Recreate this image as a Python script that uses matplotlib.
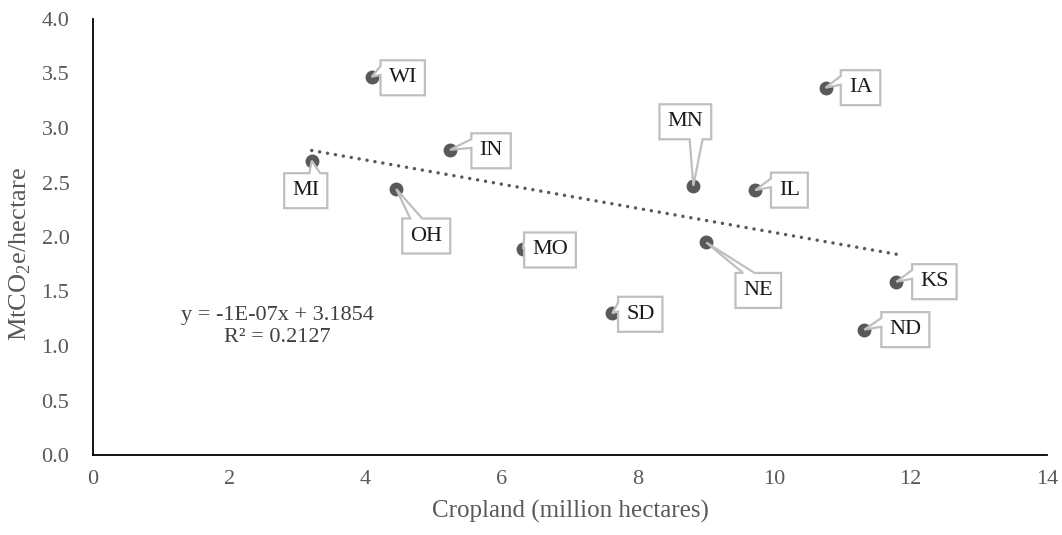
import numpy as np
import matplotlib
matplotlib.use("Agg")
import matplotlib.pyplot as plt
from matplotlib.patches import Polygon
from matplotlib.transforms import IdentityTransform

# ---- data ----
states = ["WI", "IN", "MI", "OH", "MO", "SD", "MN", "IL", "IA", "NE", "KS", "ND"]
cropland = [4.09, 5.24, 3.21, 4.45, 6.31, 7.62, 8.81, 9.72, 10.75, 9.00, 11.79, 11.32]
emissions = [3.47, 2.80, 2.70, 2.44, 1.89, 1.30, 2.47, 2.43, 3.37, 1.95, 1.59, 1.15]
equation_text = "y = -1E-07x + 3.1854\nR\u00b2 = 0.2127"
x_ticks = [0, 2, 4, 6, 8, 10, 12, 14]
y_ticks = [0.0, 0.5, 1.0, 1.5, 2.0, 2.5, 3.0, 3.5, 4.0]

# callout box centre offsets (pixels, y up) relative to their points
label_offsets = {
    "WI": (31, -1), "IN": (41, -1), "MI": (-6, -30), "OH": (30, -47),
    "MO": (27, -1), "SD": (28, -1), "MN": (-8, 64), "IL": (34, 0),
    "IA": (35, 0), "NE": (52, -48), "KS": (38, 0), "ND": (41, 0),
}

plt.rcParams['font.family'] = ['Liberation Serif', 'DejaVu Serif']
plt.rcParams['mathtext.fontset'] = 'custom'
plt.rcParams['mathtext.rm'] = 'Liberation Serif'

fig = plt.figure(figsize=(10.62, 5.35), dpi=100)
ax = fig.add_axes([93/1062, 1-455/535, (1047-93)/1062, (455-19)/535])

dark = "#595959"
ax.scatter(cropland, emissions, s=100, color=dark, zorder=2, linewidths=0)

# linear trendline
xs = np.array(cropland)
ys = np.array(emissions)
slope, intercept = np.polyfit(xs, ys, 1)
xl = np.array([xs.min(), xs.max()])
ax.plot(xl, slope*xl + intercept, color=dark, lw=2.5,
        linestyle=(0, (0.01, 2.3)), dash_capstyle='round', zorder=2)

ax.set_xlim(0, 14)
ax.set_ylim(0, 4.0)

texts = []
for s, x, y in zip(states, cropland, emissions):
    dx, dy = label_offsets[s]
    t = ax.annotate(s, xy=(x, y), xytext=(dx, dy), textcoords='offset pixels',
                    ha='center', va='center', fontsize=16, color='#1a1a1a',
                    zorder=6)
    texts.append((t, x, y, dx, dy))

ax.text(2.70, 1.18, equation_text, ha='center', va='center', multialignment='center',
        fontsize=16, color='#404040', linespacing=1.25)

ax.set_xticks(x_ticks)
ax.set_yticks(y_ticks)
ax.set_xticklabels([str(t) for t in x_ticks])
ax.set_yticklabels([f"{t:.1f}" for t in y_ticks])
ax.tick_params(length=0, labelsize=16, colors='#595959')
ax.tick_params(axis='x', pad=11)
ax.tick_params(axis='y', pad=17)
for side in ['top', 'right']:
    ax.spines[side].set_visible(False)
for side in ['left', 'bottom']:
    ax.spines[side].set_color('black')
    ax.spines[side].set_linewidth(1.3)

ax.set_xlabel("Cropland (million hectares)", fontsize=18, color='#595959')
ax.set_ylabel(r"MtCO$_{\mathregular{2}}$e/hectare", fontsize=19, color='#595959')
ax.xaxis.set_label_coords(0.5, -0.102)
ax.yaxis.set_label_coords(-0.063, 0.46)

# build callout shapes (box with wedge pointer) in display pixels
fig.canvas.draw()
renderer = fig.canvas.get_renderer()
box_h = 35.0
for t, x, y, dx, dy in texts:
    bb = t.get_window_extent(renderer)
    px, py = ax.transData.transform((x, y))
    cx, cy = px + dx, py + dy
    w = bb.width + 16.0
    h = box_h
    l, r = cx - w/2, cx + w/2
    yT, yB = cy + h/2, cy - h/2
    dxp = px - cx
    dyd = -(py - cy)  # positive if point below centre
    P = (px, py)
    inside = abs(dxp) <= w/2 and abs(dyd) <= h/2
    side = None
    if not inside:
        if abs(dxp) * h > abs(dyd) * w:
            side = 'right' if dxp > 0 else 'left'
        else:
            side = 'bottom' if dyd > 0 else 'top'
    xg1, xg2 = (7, 10) if dxp > 0 else (2, 5)
    yg1, yg2 = (7, 10) if dyd > 0 else (2, 5)
    x1, x2 = l + w*xg1/12, l + w*xg2/12
    y1, y2 = yT - h*yg1/12, yT - h*yg2/12
    v = [(l, yT)]
    if side == 'top':
        v += [(x1, yT), P, (x2, yT)]
    v += [(r, yT)]
    if side == 'right':
        v += [(r, y1), P, (r, y2)]
    v += [(r, yB)]
    if side == 'bottom':
        v += [(x2, yB), P, (x1, yB)]
    v += [(l, yB)]
    if side == 'left':
        v += [(l, y2), P, (l, y1)]
    poly = Polygon(v, closed=True, transform=IdentityTransform(), fc='white',
                   ec='#bfbfbf', lw=1.6, joinstyle='miter', zorder=5, clip_on=False)
    ax.add_artist(poly)

fig.savefig("out.png", dpi=100)
